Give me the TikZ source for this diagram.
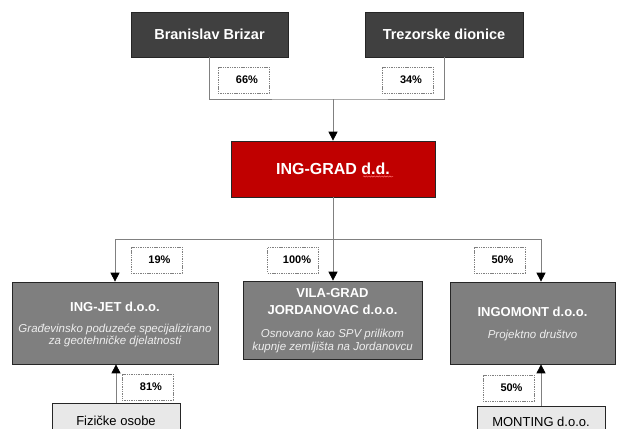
\documentclass[tikz,border=0pt]{standalone}
\usepackage{fontspec}
\setmainfont{Liberation Sans}
\usetikzlibrary{arrows.meta,decorations.pathmorphing}
\definecolor{darkbox}{HTML}{404040}
\definecolor{midbox}{HTML}{7F7F7F}
\definecolor{lightbox}{HTML}{E8E8E8}
\definecolor{igred}{HTML}{C00000}
\definecolor{linegray}{HTML}{808080}
\definecolor{subtxt}{HTML}{EEEEEE}
\tikzset{
  box/.style={draw=black!85, line width=0.7pt, inner sep=0pt},
  topbox/.style={box, fill=darkbox, text=white, font=\fontsize{14.5}{17}\selectfont\bfseries},
  redbox/.style={box, fill=igred, text=white, font=\fontsize{16}{19}\selectfont\bfseries},
  compbox/.style={box, fill=midbox},
  ownbox/.style={box, fill=lightbox, text=black, font=\fontsize{13}{15}\selectfont},
  ttl/.style={text=white, font=\fontsize{13}{15}\selectfont\bfseries, inner sep=0pt},
  sub/.style={text=subtxt, font=\fontsize{11.5}{13.5}\selectfont\itshape, inner sep=0pt},
  pct/.style={draw=linegray, dash pattern=on 1.4pt off 0.9pt, line width=0.7pt, fill=white,
    minimum width=51pt, minimum height=26pt, inner sep=0pt, font=\fontsize{11}{13}\selectfont\bfseries},
  conn/.style={draw=linegray, line width=0.8pt},
  arr/.style={conn, -{Triangle[width=9pt,length=9pt,black]}},
}
\begin{document}
\begin{tikzpicture}[x=1pt,y=-1pt]
\useasboundingbox (0,0) rectangle (617,428);
\clip (0,0) rectangle (617,428);

% owners
\node[topbox, minimum width=157pt, minimum height=45pt] (bb) at (209.5,34.5) {Branislav Brizar};
\node[topbox, minimum width=158pt, minimum height=45pt] (tz) at (444,34.5) {Trezorske dionice};

% parent
\node[redbox, minimum width=204pt, minimum height=56pt] (ig) at (333,169) {ING-GRAD d.d.};
\draw[decorate, decoration={snake, amplitude=0.6pt, segment length=2.6pt}, draw=red!55, line width=0.5pt]
  (363,176.5) -- (393,176.5);

% subsidiaries
\node[compbox, minimum width=206pt, minimum height=82pt] (jet) at (115,323) {};
\node[compbox, minimum width=179pt, minimum height=78pt] (vila) at (332.5,320) {};
\node[compbox, minimum width=165pt, minimum height=82pt] (mont) at (532.5,323) {};

\node[ttl] (jett) at (115,307) {ING-JET d.o.o.};
\node[sub] (jets1) at (115,329) {Građevinsko poduzeće specijalizirano};
\node[sub] (jets2) at (115,342) {za geotehničke djelatnosti};

\node[ttl] (vilat1) at (332.5,293) {VILA-GRAD};
\node[ttl] (vilat2) at (332.5,310) {JORDANOVAC d.o.o.};
\node[sub] (vilas1) at (332.5,335) {Osnovano kao SPV prilikom};
\node[sub] (vilas2) at (332.5,348) {kupnje zemljišta na Jordanovcu};

\node[ttl] (montt) at (532.5,312) {INGOMONT d.o.o.};
\node[sub] (monts) at (532.5,336) {Projektno društvo};

% minority owners
\node[ownbox, minimum width=128pt, minimum height=36pt] (fiz) at (116,421) {\raisebox{0pt}{Fizičke osobe}};
\node[ownbox, minimum width=128pt, minimum height=32pt] (mtg) at (541,422) {MONTING d.o.o.};

% connectors
\coordinate (j1) at (333,99);
\coordinate (j2) at (333,239);
\draw[conn] (bb.south) |- (j1) -| (tz.south);
\draw[arr] (j1) -- (ig.north);
\draw[conn] (ig.south) -- (j2);
\draw[arr] (j2) -| (jet.north);
\draw[arr] (j2) -- (vila.north -| j2);
\draw[arr] (j2) -| (mont.north -| mtg.north);
\draw[arr] (fiz.north) -- (jet.south -| fiz.north);
\draw[arr] (mtg.north) -- (mont.south -| mtg.north);

% percentages
\node[pct] (p66) at (243.5,80) {\hspace*{7pt}66\%};
\node[pct] (p34) at (407.5,80) {\hspace*{7pt}34\%};
\node[pct] (p19) at (156.5,260) {\hspace*{6pt}19\%};
\node[pct] (p100) at (293,260) {\hspace*{8pt}100\%};
\node[pct] (p50a) at (499.5,260) {\hspace*{6pt}50\%};
\node[pct] (p81) at (147.5,387) {\hspace*{7pt}81\%};
\node[pct] (p50b) at (508.5,388) {\hspace*{6pt}50\%};
\end{tikzpicture}
\end{document}
